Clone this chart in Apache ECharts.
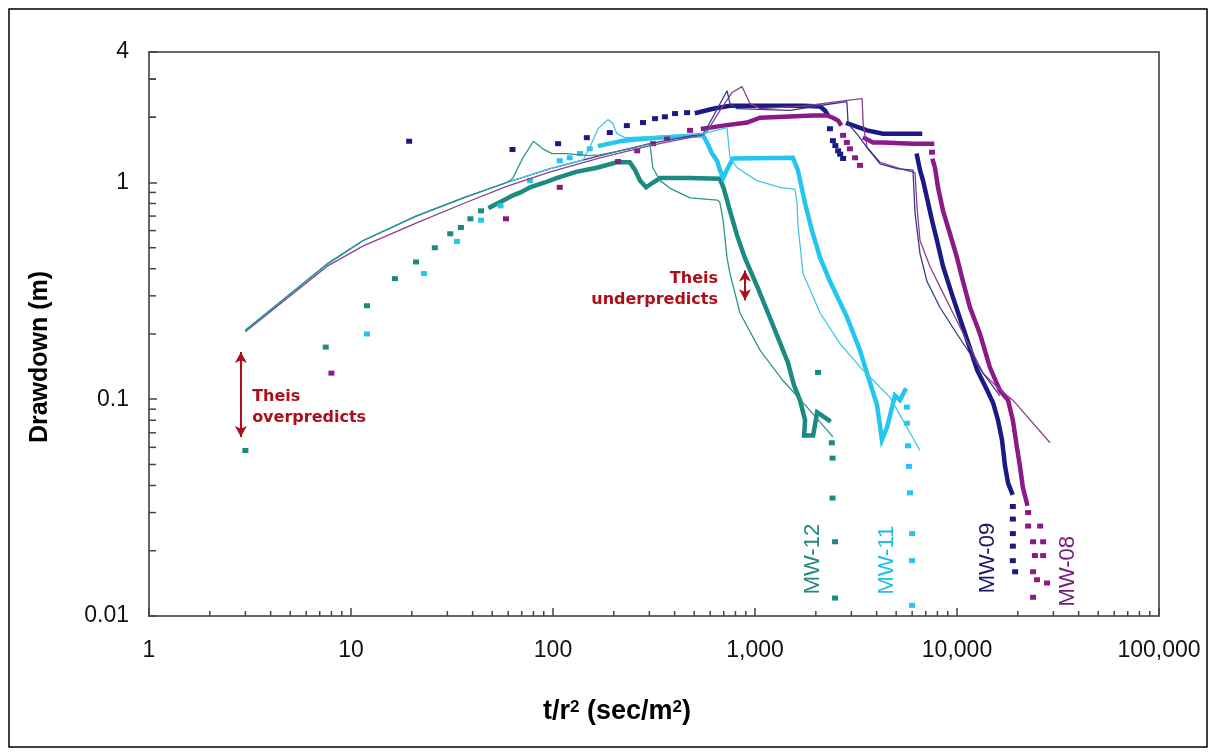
<!DOCTYPE html>
<html>
<head>
<meta charset="utf-8">
<script src="https://cdn.jsdelivr.net/npm/echarts@6/dist/echarts.min.js"></script>
<style>
html,body{margin:0;padding:0;background:#fff;}
#chart{width:1212px;height:754px;}
</style>
</head>
<body>
<div id="chart"></div>
<script>
// ---------- axis settings ----------
const xMin = 1, xMax = 100000;
const yMin = 0.01, yMax = 4;
const minorMultipliers = [2, 3, 4, 5, 6, 7, 8, 9];
const xDecades = [1, 10, 100, 1000, 10000];
const yDecades = [0.01, 0.1, 1];

// ---------- MW-12 ----------
const mw12Theis = [[3,0.208],[7.6,0.42],[11.5,0.54],[21,0.70],[36,0.85],[59,1.0],[63,1.04],[71,1.30],[80,1.55],[89,1.43],[99,1.36],[117,1.36],[150,1.33],[171,1.34],[240,1.43],[302,1.51],[312,1.17],[339,1.02],[380,0.94],[477,0.85],[650,0.83],[670,0.81],[695,0.67],[727,0.45],[752,0.38],[843,0.25],[1060,0.168],[1375,0.122],[1810,0.092],[2430,0.067]];
const mw12Obs = [[49,0.77],[53,0.80],[58,0.835],[63,0.87],[69,0.90],[77,0.95],[91,1.0],[105,1.05],[130,1.12],[165,1.17],[207,1.24],[240,1.24],[255,1.14],[270,1.02],[289,0.95],[313,1.0],[339,1.05],[477,1.05],[670,1.04],[700,0.94],[752,0.74],[815,0.57],[890,0.45],[1020,0.335],[1160,0.25],[1315,0.187],[1455,0.148],[1560,0.116],[1670,0.099],[1770,0.080],[1750,0.068],[1940,0.068],[2030,0.087],[2150,0.084],[2320,0.080]];
const mw12Pts = [[3,0.058],[7.5,0.174],[12,0.27],[16.5,0.36],[21,0.43],[26,0.50],[31,0.58],[35,0.62],[39,0.68],[44,0.74],[2050,0.133],[2400,0.063],[2420,0.0535],[2420,0.035],[2490,0.022],[2490,0.0121]];

// ---------- MW-11 ----------
const mw11Theis = [[3,0.208],[7.6,0.42],[11.5,0.54],[21,0.70],[36,0.85],[59,1.0],[97,1.16],[141,1.27],[152,1.45],[167,1.77],[187,1.95],[198,1.87],[207,1.68],[227,1.61],[327,1.63],[553,1.68],[727,1.79],[752,1.30],[815,1.17],[1023,1.02],[1330,0.95],[1578,0.93],[1614,0.80],[1633,0.63],[1730,0.38],[2100,0.25],[2640,0.18],[3430,0.136],[4660,0.102],[6560,0.058]];
const mw11Obs = [[171,1.48],[222,1.56],[327,1.61],[553,1.65],[579,1.53],[613,1.36],[649,1.26],[671,1.14],[695,1.05],[735,1.17],[778,1.29],[1540,1.30],[1630,1.14],[1770,0.80],[1915,0.60],[2100,0.45],[2350,0.35],[2850,0.24],[3310,0.168],[3710,0.119],[4020,0.094],[4250,0.065],[4500,0.074],[4660,0.084],[4930,0.104],[5220,0.099],[5530,0.110]];
const mw11Pts = [[12,0.20],[23,0.38],[33.5,0.535],[44,0.67],[55,0.78],[77,1.02],[108,1.26],[121,1.30],[136,1.36],[152,1.43],[5650,0.092],[5650,0.0775],[5720,0.061],[5780,0.049],[5850,0.037],[5990,0.024],[5990,0.018],[5990,0.0112]];

// ---------- MW-09 ----------
const mw09Theis = [[3,0.208],[7.6,0.42],[11.5,0.54],[21,0.70],[36,0.85],[59,1.0],[97,1.16],[171,1.33],[302,1.51],[553,1.68],[579,1.79],[727,2.65],[752,2.31],[815,2.19],[1490,2.15],[2270,2.29],[2850,2.36],[2890,1.87],[3236,1.65],[3585,1.45],[4160,1.22],[5045,1.16],[6055,1.14],[6200,0.72],[6560,0.47],[7100,0.35],[8240,0.265],[10000,0.20],[13450,0.132],[16300,0.104]];
const mw09ObsA = [[516,2.10],[620,2.19],[752,2.26],[1100,2.26],[1730,2.26],[2100,2.24],[2220,2.15],[2270,2.08]];
const mw09ObsB = [[2890,1.87],[3585,1.74],[4300,1.68],[6560,1.68]];
const mw09ObsC = [[6340,1.33],[6560,1.14],[6790,1.02],[7100,0.85],[7520,0.67],[7960,0.54],[8530,0.41],[9550,0.295],[10700,0.215],[12600,0.136],[14100,0.110],[15100,0.096],[15960,0.080],[16700,0.065],[17300,0.049],[17900,0.041],[18700,0.037]];
const mw09Pts = [[19.4,1.55],[63,1.42],[106,1.51],[147,1.61],[191,1.70],[232,1.83],[279,1.89],[320,1.97],[358,2.01],[402,2.08],[461,2.10],[2350,1.77],[2430,1.56],[2500,1.48],[2580,1.40],[2640,1.35],[2730,1.29],[18900,0.032],[18900,0.028],[18900,0.024],[18900,0.021],[18900,0.018],[19400,0.016]];

// ---------- MW-08 ----------
const mw08Theis = [[3,0.205],[7.6,0.41],[11.5,0.51],[21,0.65],[36,0.80],[59,0.96],[97,1.12],[171,1.30],[302,1.48],[553,1.66],[579,1.72],[671,2.15],[769,2.60],[862,2.77],[945,2.31],[1060,2.19],[1730,2.25],[2850,2.39],[3390,2.44],[3430,1.87],[3585,1.45],[4160,1.24],[5220,1.16],[6200,1.11],[6340,0.77],[6560,0.54],[7350,0.41],[8240,0.33],[9550,0.25],[13450,0.132],[15800,0.114],[18900,0.099],[28900,0.063]];
const mw08ObsA = [[553,1.77],[695,1.83],[913,1.89],[1060,1.99],[1940,2.04],[2270,2.04],[2430,1.99],[2580,1.93],[2640,1.87]];
const mw08ObsB = [[3500,1.60],[3840,1.53],[4300,1.53],[6055,1.51],[7520,1.51]];
const mw08ObsC = [[7600,1.26],[7780,1.17],[8050,0.95],[8530,0.74],[9230,0.58],[10000,0.45],[10700,0.35],[11600,0.265],[13000,0.20],[14560,0.14],[16300,0.11],[17900,0.099],[18900,0.080],[19800,0.060],[20500,0.049],[21200,0.039],[22200,0.033]];
const mw08Pts = [[8,0.132],[58.5,0.68],[108,0.95],[210,1.25],[261,1.40],[313,1.51],[367,1.60],[477,1.74],[2730,1.65],[2850,1.53],[2950,1.43],[3130,1.30],[3310,1.20],[7520,1.38],[22500,0.030],[22500,0.026],[25800,0.026],[23800,0.022],[26700,0.022],[24300,0.019],[26700,0.019],[23800,0.016],[24900,0.0147],[27900,0.0142],[23800,0.0122]];

// ---------- annotations (data coordinates) ----------
const wellLabels = [
  {name: 'MW-12', x: 1937, y: 0.0183, color: '#22897f'},
  {name: 'MW-11', x: 4500, y: 0.0181, color: '#1fbfe6'},
  {name: 'MW-09', x: 14230, y: 0.0185, color: '#1a1866'},
  {name: 'MW-08', x: 35460, y: 0.0161, color: '#761a7a'}
];
const overArrow = [[2.85, 0.165], [2.85, 0.067]];
const overText = {x: 3.24, y: 0.092, text: 'Theis\noverpredicts'};
const underArrow = [[892, 0.393], [892, 0.286]];
const underText = {x: 656, y: 0.323, text: 'Theis\nunderpredicts'};

// ---------- colours ----------
const C12 = '#1b8a80', C12t = '#2a968c';
const C11 = '#22c6ef', C11t = '#3ec8e6';
const C09 = '#1a1a82', C09t = '#3a388c';
const C08 = '#8b1a89', C08t = '#8f3f8f';
const RED = '#ad0f1a';
const FONT = '"Liberation Sans", Arial, sans-serif';

const minorX = [];
xDecades.forEach(d => minorMultipliers.forEach(m => minorX.push([d * m, yMin])));
const minorY = [];
yDecades.forEach(d => minorMultipliers.forEach(m => { if (d * m < yMax) minorY.push([xMin, d * m]); }));
minorY.push([xMin, 2], [xMin, 3]);

function thick(name, data, color) {
  return {type: 'line', name, data, showSymbol: false, symbol: 'none',
    lineStyle: {width: 4.5, color, cap: 'square', join: 'miter', opacity: 1}, itemStyle: {color}, z: 3, silent: true};
}
function thin(name, data, color) {
  return {type: 'line', name, data, showSymbol: false, symbol: 'none',
    lineStyle: {width: 1.3, color, opacity: 1}, itemStyle: {color}, z: 4, silent: true};
}
function pts(name, data, color) {
  return {type: 'scatter', name, data, symbol: 'rect', symbolSize: [6, 5],
    itemStyle: {color, opacity: 1}, z: 3, silent: true};
}
function tickSeries(data, vertical) {
  return {type: 'custom', data, silent: true, z: 5,
    renderItem: (params, api) => {
      const p = api.coord([api.value(0), api.value(1)]);
      const shape = vertical ? {x1: p[0], y1: p[1], x2: p[0], y2: p[1] - 5}
                             : {x1: p[0], y1: p[1], x2: p[0] + 7, y2: p[1]};
      return {type: 'line', shape, style: {stroke: '#444', lineWidth: 1.5}};
    }};
}

const chart = echarts.init(document.getElementById('chart'), null, {renderer: 'canvas'});
const option = {
  animation: false,
  backgroundColor: '#fff',
  grid: {left: 149, right: 53, top: 52, bottom: 138, show: true, borderColor: '#666', borderWidth: 2},
  xAxis: {
    type: 'log', logBase: 10, min: xMin, max: xMax,
    axisLine: {show: true, lineStyle: {color: '#666', width: 2}},
    axisTick: {show: true, inside: true, length: 8, lineStyle: {color: '#444', width: 1.5}},
    splitLine: {show: false},
    axisLabel: {color: '#111', fontFamily: FONT, fontSize: 23, margin: 23,
      formatter: v => String(Math.round(v)).replace(/\B(?=(\d{3})+(?!\d))/g, ',')}
  },
  yAxis: {
    type: 'log', logBase: 10, min: yMin, max: yMax,
    axisLine: {show: true, lineStyle: {color: '#666', width: 2}},
    axisTick: {show: true, inside: true, length: 8, lineStyle: {color: '#444', width: 1.5}},
    splitLine: {show: false},
    axisLabel: {color: '#111', fontFamily: FONT, fontSize: 23, margin: 20,
      formatter: v => String(+Number(v).toPrecision(6))}
  },
  graphic: [
    {type: 'rect', shape: {x: 9, y: 9, width: 1198, height: 738}, style: {fill: 'none', stroke: '#000', lineWidth: 1.5}, z: 100, silent: true},
    {type: 'text', x: 40, y: 357, rotation: Math.PI / 2, silent: true,
      style: {text: 'Drawdown (m)', align: 'center', verticalAlign: 'middle',
        fontFamily: FONT, fontSize: 25, fontWeight: 'bold', fill: '#000'}},
    {type: 'text', x: 617, y: 712, silent: true,
      style: {text: '{b|t/r}{s|2}{b| (sec/m}{s|2}{b|)}', align: 'center', verticalAlign: 'middle',
        rich: {b: {fontFamily: FONT, fontSize: 27, fontWeight: 'bold', fill: '#000'},
               s: {fontFamily: FONT, fontSize: 17, fontWeight: 'bold', fill: '#000', verticalAlign: 'top'}}}}
  ],
  series: [
    tickSeries(minorX, true),
    tickSeries(minorY, false),
    thick('MW-12 observed', mw12Obs, C12),
    pts('MW-12 points', mw12Pts, C12),
    thick('MW-11 observed', mw11Obs, C11),
    pts('MW-11 points', mw11Pts, C11),
    thick('MW-09 observed A', mw09ObsA, C09),
    thick('MW-09 observed B', mw09ObsB, C09),
    thick('MW-09 observed C', mw09ObsC, C09),
    pts('MW-09 points', mw09Pts, C09),
    thick('MW-08 observed A', mw08ObsA, C08),
    thick('MW-08 observed B', mw08ObsB, C08),
    thick('MW-08 observed C', mw08ObsC, C08),
    pts('MW-08 points', mw08Pts, C08),
    thin('MW-08 Theis', mw08Theis, C08t),
    thin('MW-09 Theis', mw09Theis, C09t),
    thin('MW-11 Theis', mw11Theis, C11t),
    thin('MW-12 Theis', mw12Theis, C12t),
    {type: 'scatter', name: 'well labels', silent: true, z: 6,
      data: wellLabels.map(w => ({value: [w.x, w.y], name: w.name,
        label: {show: true, formatter: w.name, color: w.color, rotate: 90, position: 'inside',
          fontFamily: FONT, fontSize: 22}})),
      symbolSize: 0, itemStyle: {color: 'transparent', opacity: 1}},
    {type: 'scatter', name: 'notes', silent: true, z: 6, symbolSize: 0, itemStyle: {color: 'transparent', opacity: 1},
      data: [
        {value: [overText.x, overText.y], label: {show: true, formatter: overText.text, position: 'right', distance: 0,
          align: 'left', color: RED, fontFamily: '"DejaVu Sans", sans-serif', fontWeight: 'bold', fontSize: 16, lineHeight: 21}},
        {value: [underText.x, underText.y], label: {show: true, formatter: underText.text, position: 'left', distance: 0,
          align: 'right', color: RED, fontFamily: '"DejaVu Sans", sans-serif', fontWeight: 'bold', fontSize: 16, lineHeight: 21}}
      ],
      markLine: {silent: true, symbol: ['arrow', 'arrow'], symbolSize: [9, 11], label: {show: false},
        lineStyle: {color: RED, width: 2, type: 'solid', opacity: 1},
        data: [
          [{coord: overArrow[0]}, {coord: overArrow[1]}],
          [{coord: underArrow[0]}, {coord: underArrow[1]}]
        ]}
    }
  ]
};
chart.setOption(option);
</script>
</body>
</html>
